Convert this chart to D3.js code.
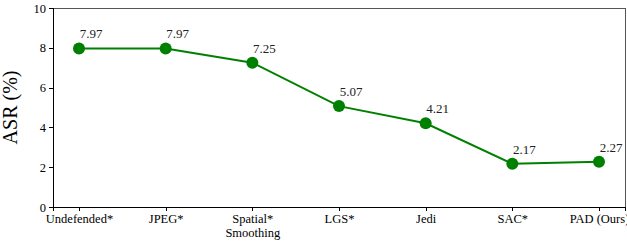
<!DOCTYPE html>
<meta charset="utf-8">
<style>
body { margin: 0; background: #fff; }
svg { display: block; }
.axis text { font: 12.5px "Liberation Serif", "Times New Roman", serif; fill: #000; }
.axis path, .axis line { stroke: #000; shape-rendering: crispEdges; }
.lbl { font: 13px "Liberation Serif", "Times New Roman", serif; fill: #222; }
</style>
<svg width="627" height="245"></svg>
<script src="https://cdn.jsdelivr.net/npm/d3@7"></script>
<script>

var categories = ["Undefended*", "JPEG*", "Spatial*\nSmoothing", "LGS*", "Jedi", "SAC*", "PAD (Ours)"];
var asr = [7.97, 7.97, 7.25, 5.07, 4.21, 2.17, 2.27];
var yTicks = [0, 2, 4, 6, 8, 10];

var svg = d3.select("svg"),
    margin = {top: 8, right: 2, bottom: 38, left: 53},
    width = +svg.attr("width") - margin.left - margin.right,
    height = +svg.attr("height") - margin.top - margin.bottom;

var g = svg.append("g").attr("transform", "translate(" + margin.left + "," + margin.top + ")");

var x = d3.scaleLinear().domain([-0.3, categories.length - 0.7]).range([0, width]),
    y = d3.scaleLinear().domain([0, 10]).range([height, 0]);

var data = categories.map(function(c, i) { return {i: i, name: c, v: asr[i]}; });

// frame
g.append("rect")
    .attr("width", width).attr("height", height)
    .attr("fill", "none").attr("stroke", "#555").attr("stroke-width", 1)
    .attr("shape-rendering", "crispEdges");

var yAxis = g.append("g").attr("class", "axis")
    .call(d3.axisLeft(y).tickValues(yTicks).tickSize(4).tickPadding(3));

var xAxis = g.append("g").attr("class", "axis")
    .attr("transform", "translate(0," + height + ")")
    .call(d3.axisBottom(x).tickValues(d3.range(categories.length)).tickSize(4).tickPadding(3)
      .tickFormat(function(i) { return categories[i]; }));
xAxis.select(".domain").attr("stroke", "#555");
xAxis.selectAll(".tick line").attr("stroke", "#555");

// multi-line labels
xAxis.selectAll(".tick text").each(function(i) {
  var t = d3.select(this), lines = categories[i].split("\n");
  t.text(null);
  lines.forEach(function(l, k) {
    t.append("tspan").attr("x", 0).attr("dy", k === 0 ? "0.71em" : "1.15em").text(l);
  });
});

g.append("text")
    .attr("transform", "rotate(-90)")
    .attr("x", -height / 2)
    .attr("y", -36)
    .attr("text-anchor", "middle")
    .style("font", "20px 'Liberation Serif', 'Times New Roman', serif")
    .text("ASR (%)");

var line = d3.line().x(function(d) { return x(d.i); }).y(function(d) { return y(d.v); });

g.append("path").datum(data)
    .attr("fill", "none").attr("stroke", "#008000").attr("stroke-width", 2)
    .attr("d", line);

g.selectAll(".dot").data(data).enter().append("circle")
    .attr("class", "dot")
    .attr("cx", function(d) { return x(d.i); })
    .attr("cy", function(d) { return y(d.v); })
    .attr("r", 6)
    .attr("fill", "#008000");

g.selectAll(".lbl").data(data).enter().append("text")
    .attr("class", "lbl")
    .attr("x", function(d) { return x(d.i) + 12; })
    .attr("y", function(d) { return y(d.v) - 10; })
    .attr("text-anchor", "middle")
    .text(function(d) { return d.v.toFixed(2); });

</script>
